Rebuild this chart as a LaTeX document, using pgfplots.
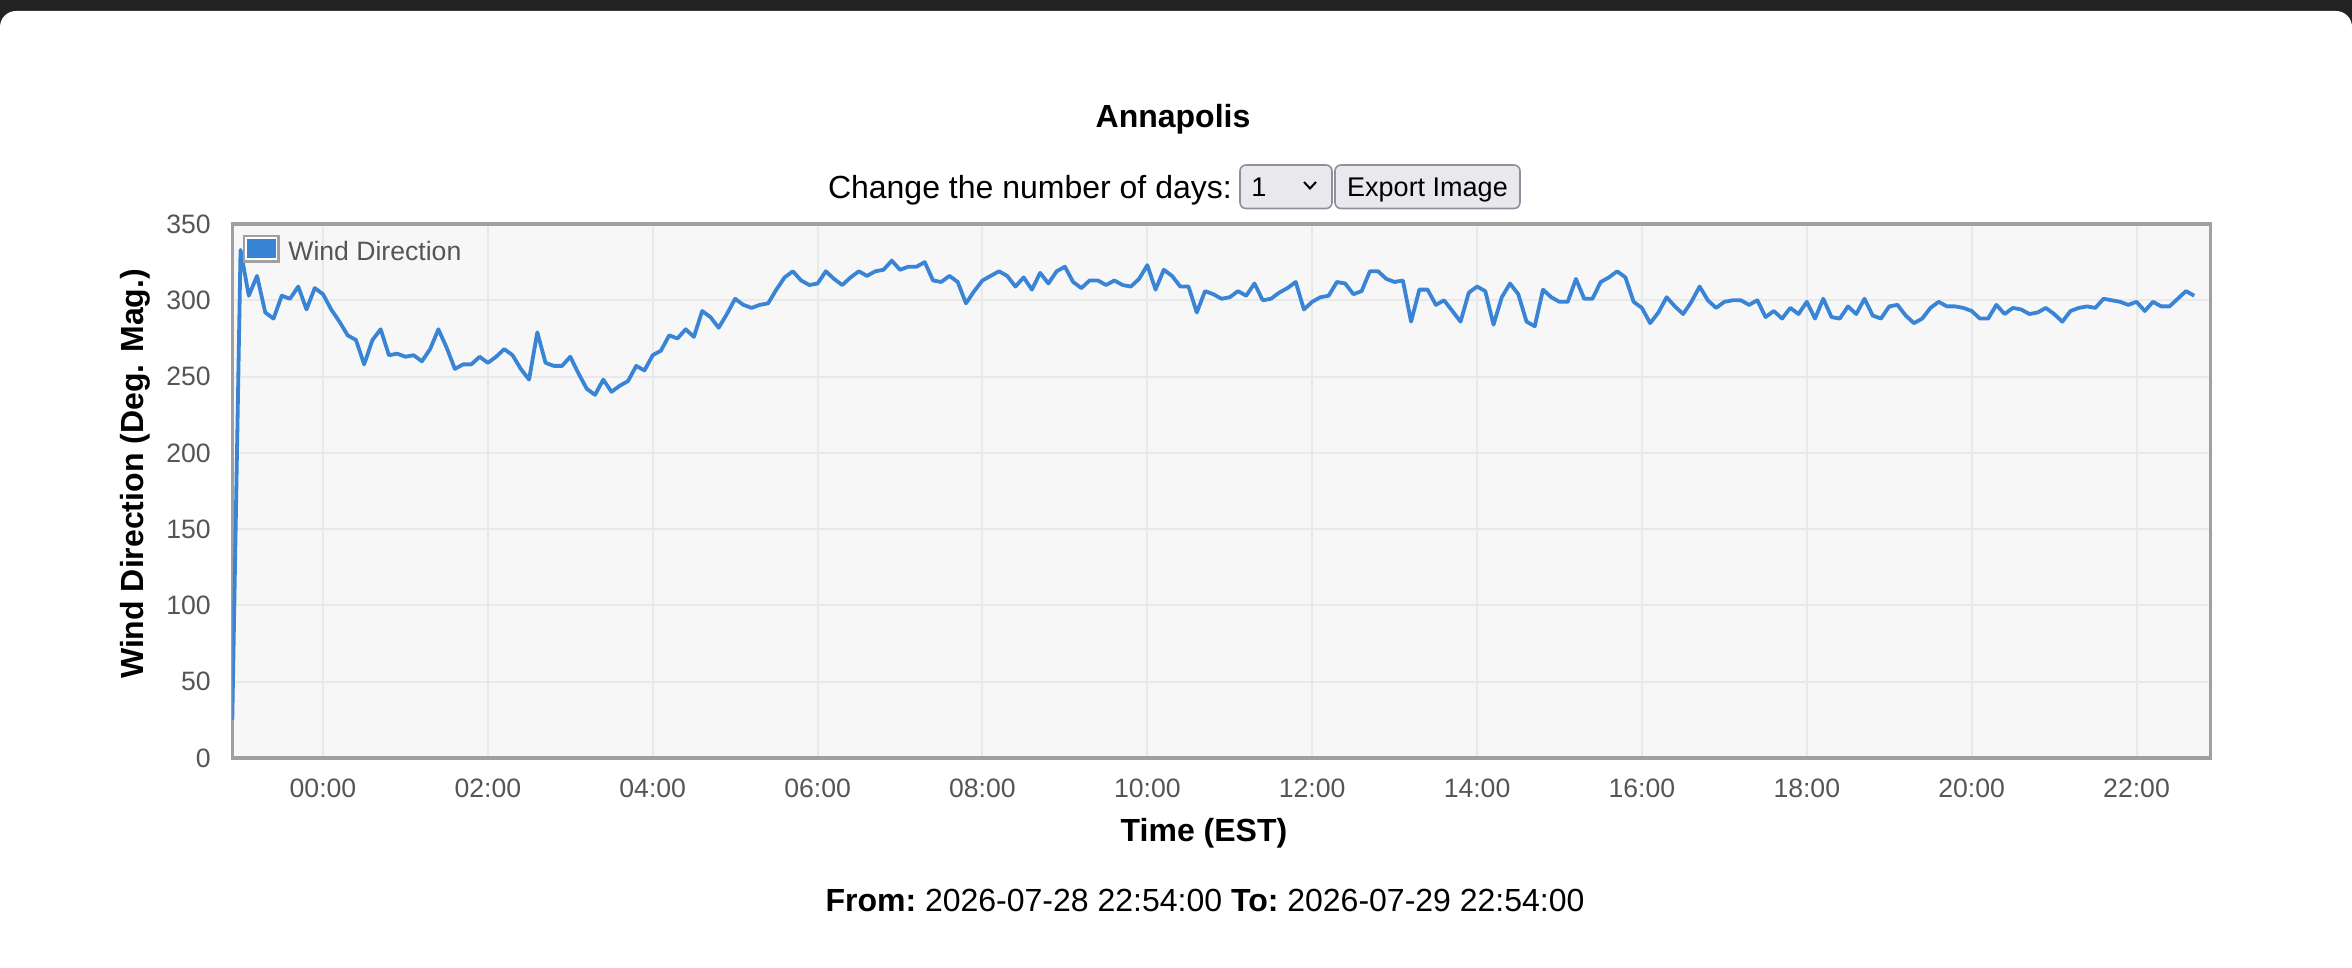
\documentclass[border=0pt]{standalone}
\usepackage{pgfplots}
\pgfplotsset{compat=1.18}
\usepackage{fontspec}
\setmainfont{Liberation Sans}
\definecolor{linec}{RGB}{58,132,214}
\definecolor{tickc}{RGB}{85,85,85}
\definecolor{framec}{RGB}{160,160,160}
\definecolor{gridc}{RGB}{233,233,233}
\definecolor{bgc}{RGB}{247,247,247}
\definecolor{topc}{RGB}{35,35,35}
\definecolor{btnfill}{RGB}{233,233,237}
\definecolor{btnborder}{RGB}{143,143,157}
\begin{document}
\begin{tikzpicture}
\useasboundingbox (0,0) rectangle (1176pt,-484pt);
\fill[topc] (0,0) rectangle (1176pt,-20pt);
\fill[white, rounded corners=8pt] (0,-5.5pt) rectangle (1176pt,-500pt);
\begin{axis}[
  at={(116.15pt,-379pt)}, anchor=south west,
  scale only axis, width=989.2pt, height=267pt,
  xmin=-11, xmax=229, ymin=0, ymax=350,
  xtick={0,20,...,220},
  xticklabels={00:00,02:00,04:00,06:00,08:00,10:00,12:00,14:00,16:00,18:00,20:00,22:00},
  ytick={0,50,...,350},
  grid=major,
  major grid style={draw=gridc, line width=1pt},
  axis line style={draw=framec, line width=1.6pt},
  axis background/.style={fill=bgc},
  major tick length=0pt,
  tick label style={font=\fontsize{13.3}{15}\selectfont, text=tickc},
  /pgf/number format/assume math mode=true,
  yticklabel style={inner sep=0pt, xshift=-10.6pt},
  xticklabel style={inner sep=0pt, yshift=-10.3pt},
]
\addplot[linec, line width=1.9pt, line join=round, no marks] coordinates {
(-11,25) (-10,333) (-9,303) (-8,316) (-7,292) (-6,288) (-5,303) (-4,301) (-3,309) (-2,294)
(-1,308) (0,304) (1,294) (2,286) (3,277) (4,274) (5,258) (6,274) (7,281) (8,264)
(9,265) (10,263) (11,264) (12,260) (13,268) (14,281) (15,269) (16,255) (17,258) (18,258)
(19,263) (20,259) (21,263) (22,268) (23,264) (24,255) (25,248) (26,279) (27,259) (28,257)
(29,257) (30,263) (31,252) (32,242) (33,238) (34,248) (35,240) (36,244) (37,247) (38,257)
(39,254) (40,264) (41,267) (42,277) (43,275) (44,281) (45,276) (46,293) (47,289) (48,282)
(49,291) (50,301) (51,297) (52,295) (53,297) (54,298) (55,307) (56,315) (57,319) (58,313)
(59,310) (60,311) (61,319) (62,314) (63,310) (64,315) (65,319) (66,316) (67,319) (68,320)
(69,326) (70,320) (71,322) (72,322) (73,325) (74,313) (75,312) (76,316) (77,312) (78,298)
(79,306) (80,313) (81,316) (82,319) (83,316) (84,309) (85,315) (86,307) (87,318) (88,311)
(89,319) (90,322) (91,312) (92,308) (93,313) (94,313) (95,310) (96,313) (97,310) (98,309)
(99,314) (100,323) (101,307) (102,320) (103,316) (104,309) (105,309) (106,292) (107,306) (108,304)
(109,301) (110,302) (111,306) (112,303) (113,311) (114,300) (115,301) (116,305) (117,308) (118,312)
(119,294) (120,299) (121,302) (122,303) (123,312) (124,311) (125,304) (126,306) (127,319) (128,319)
(129,314) (130,312) (131,313) (132,286) (133,307) (134,307) (135,297) (136,300) (137,293) (138,286)
(139,305) (140,309) (141,306) (142,284) (143,302) (144,311) (145,304) (146,286) (147,283) (148,307)
(149,302) (150,299) (151,299) (152,314) (153,301) (154,301) (155,312) (156,315) (157,319) (158,315)
(159,299) (160,295) (161,285) (162,292) (163,302) (164,296) (165,291) (166,299) (167,309) (168,300)
(169,295) (170,299) (171,300) (172,300) (173,297) (174,300) (175,289) (176,293) (177,288) (178,295)
(179,291) (180,299) (181,288) (182,301) (183,289) (184,288) (185,296) (186,291) (187,301) (188,290)
(189,288) (190,296) (191,297) (192,290) (193,285) (194,288) (195,295) (196,299) (197,296) (198,296)
(199,295) (200,293) (201,288) (202,288) (203,297) (204,291) (205,295) (206,294) (207,291) (208,292)
(209,295) (210,291) (211,286) (212,293) (213,295) (214,296) (215,295) (216,301) (217,300) (218,299)
(219,297) (220,299) (221,293) (222,299) (223,296) (224,296) (225,301) (226,306) (227,303)
};
\end{axis}
\begin{scope}[x=0.5pt, y=-0.5pt]
  % legend
  \draw[framec, line width=1.2pt, fill=white] (244,236) rectangle (278.5,261.5);
  \fill[linec] (247,239) rectangle (275.5,258.5);
  \node[anchor=base west, inner sep=0pt, text=tickc, font=\fontsize{13.3}{15}\selectfont] at (288,261) {Wind Direction};
  % title and controls
  \node[anchor=base, inner sep=0pt, font=\bfseries\fontsize{16}{19}\selectfont] at (1173,127.5) {Annapolis};
  \node[anchor=base west, inner sep=0pt, font=\fontsize{16}{19}\selectfont] at (827.6,199) {Change the number of days:};
  \draw[btnborder, line width=0.8pt, fill=btnfill, rounded corners=3pt] (1240,165) rectangle (1332,208.5);
  \node[anchor=base west, inner sep=0pt, font=\fontsize{13.5}{16}\selectfont] at (1251,197) {1};
  \draw[black, line width=1pt] (1304,182) -- (1310,188.5) -- (1316,182);
  \draw[btnborder, line width=0.8pt, fill=btnfill, rounded corners=3pt] (1335,165) rectangle (1520,208.5);
  \node[anchor=base, inner sep=0pt, font=\fontsize{13.5}{16}\selectfont] at (1427.5,197) {Export Image};
  % axis titles
  \node[rotate=90, inner sep=0pt, font=\bfseries\fontsize{16}{19}\selectfont] at (135,474) {Wind Direction (Deg. Mag.)};
  \node[anchor=base, inner sep=0pt, font=\bfseries\fontsize{16}{19}\selectfont] at (1204,841) {Time (EST)};
  \node[anchor=base, inner sep=0pt, font=\fontsize{16}{19}\selectfont] at (1205,911) {\textbf{From:}\ 2026-07-28 22:54:00\ \textbf{To:}\ 2026-07-29 22:54:00};
\end{scope}
\end{tikzpicture}
\end{document}
